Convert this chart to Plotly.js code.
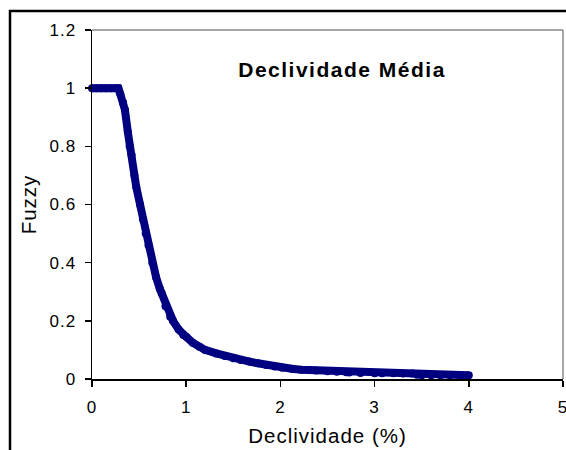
<!DOCTYPE html>
<html>
<head>
<meta charset="utf-8">
<script src="https://cdn.plot.ly/plotly-3.0.1.min.js"></script>
<style>
html,body{margin:0;padding:0;background:#fff;overflow:hidden}
#chart{width:566px;height:450px}
#chart .xtick text, #chart .ytick text{letter-spacing:1px}
#chart .xtitle, #chart .ytitle{letter-spacing:1px}
#chart .annotation-text{letter-spacing:1.5px}
</style>
</head>
<body>
<div id="chart"></div>
<script>
var declividade = [0, 0.05, 0.10, 0.15, 0.20, 0.25, 0.28, 0.30, 0.33, 0.35, 0.38, 0.40, 0.42, 0.45, 0.47, 0.51, 0.54, 0.57, 0.60, 0.64, 0.68, 0.72, 0.74, 0.78, 0.83, 0.86, 0.92, 0.97, 1.00, 1.07, 1.14, 1.20, 1.32, 1.41, 1.50, 1.58, 1.67, 1.76, 1.85, 1.94, 2.02, 2.12, 2.22, 2.30, 2.38, 2.50, 2.60, 2.70, 2.73, 2.85, 3.00, 3.08, 3.20, 3.30, 3.40, 3.45, 3.50, 3.60, 3.70, 3.80, 3.90, 4.00];
var fuzzy = [1.0, 1.0, 1.0, 1.0, 1.0, 1.0, 1.0, 0.98, 0.95, 0.925, 0.85, 0.80, 0.77, 0.70, 0.66, 0.60, 0.55, 0.50, 0.46, 0.40, 0.35, 0.31, 0.295, 0.25, 0.214, 0.20, 0.17, 0.151, 0.145, 0.125, 0.111, 0.10, 0.088, 0.079, 0.071, 0.065, 0.060, 0.054, 0.048, 0.043, 0.039, 0.035, 0.032, 0.031, 0.029, 0.027, 0.025, 0.023, 0.022, 0.021, 0.020, 0.020, 0.020, 0.019, 0.019, 0.015, 0.013, 0.013, 0.013, 0.013, 0.013, 0.013];
var xTicks = [0, 1, 2, 3, 4, 5];
var yTicks = [0, 0.2, 0.4, 0.6, 0.8, 1, 1.2];
var yTickLabels = ['0', '0.2', '0.4', '0.6', '0.8', '1', '1.2'];
var chartTitle = 'Declividade Média';

var trace = {
  x: declividade, y: fuzzy, type: 'scatter', mode: 'lines+markers',
  line: {color: '#000080', width: 8, shape: 'linear'},
  marker: {color: '#000080', size: 8},
  hoverinfo: 'skip', showlegend: false, cliponaxis: false
};
var fam = 'Liberation Sans, Arial, sans-serif';
var layout = {
  width: 566, height: 450,
  margin: {l: 92, r: 3, t: 30, b: 71, pad: 0},
  paper_bgcolor: '#fff', plot_bgcolor: '#fff',
  font: {family: fam, color: '#000'},
  showlegend: false,
  xaxis: {
    range: [0, 5], tickvals: xTicks, ticktext: xTicks.map(String),
    showgrid: false, zeroline: false,
    showline: true, linecolor: '#000', linewidth: 1.5,
    ticks: 'outside', ticklen: 6, tickcolor: '#000', tickwidth: 1.5,
    ticklabelstandoff: 6, ticklabeloverflow: 'allow',
    tickfont: {family: fam, size: 17, color: '#000'},
    title: {text: 'Declividade (%)', font: {family: fam, size: 20.5, color: '#000'}, standoff: 12}
  },
  yaxis: {
    range: [0, 1.2], tickvals: yTicks, ticktext: yTickLabels,
    showgrid: false, zeroline: false,
    showline: true, linecolor: '#000', linewidth: 1.5,
    ticks: 'outside', ticklen: 6, tickcolor: '#000', tickwidth: 1.5,
    ticklabelstandoff: 5, ticklabeloverflow: 'allow',
    tickfont: {family: fam, size: 17, color: '#000'},
    title: {text: 'Fuzzy', font: {family: fam, size: 20.5, color: '#000'}, standoff: 10}
  },
  shapes: [
    {type: 'line', xref: 'paper', yref: 'paper', x0: 0, x1: 1, y0: 1, y1: 1, line: {color: '#888', width: 1.5}},
    {type: 'line', xref: 'paper', yref: 'paper', x0: 1, x1: 1, y0: 0, y1: 1, line: {color: '#888', width: 1.5}},
    {type: 'rect', xref: 'paper', yref: 'paper', x0: (10 - 92) / 471, x1: 1.2, y0: -0.4, y1: (379 - 11) / 349, line: {color: '#000', width: 2.5}, fillcolor: 'rgba(0,0,0,0)', layer: 'above'}
  ],
  annotations: [
    {text: '<b>' + chartTitle + '</b>', xref: 'paper', yref: 'paper', x: (342 - 92) / 471, y: (379 - 69) / 349, xanchor: 'center', yanchor: 'middle', showarrow: false, font: {family: fam, size: 21, color: '#000'}}
  ]
};
Plotly.newPlot('chart', [trace], layout, {staticPlot: true, displayModeBar: false});
</script>
</body>
</html>
